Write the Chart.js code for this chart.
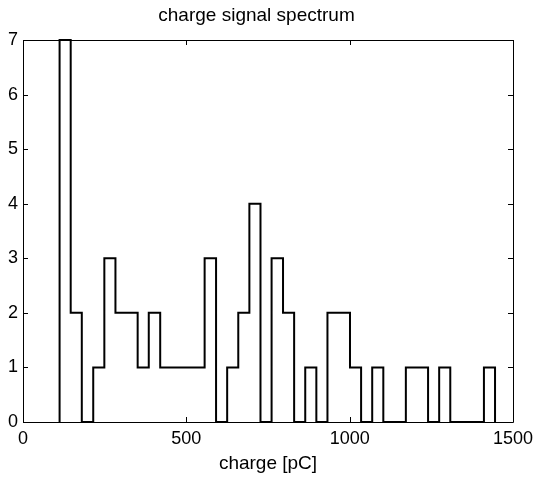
<!DOCTYPE html>
<html>
<head>
<meta charset="utf-8">
<script src="https://cdn.jsdelivr.net/npm/chart.js@4/dist/chart.umd.min.js"></script>
<style>
  body { margin: 0; background: #fff; }
  canvas { display: block; }
</style>
</head>
<body>
<canvas id="spectrumChart" width="535" height="477"></canvas>
<script>
// Histogram bin edges (pC) and counts per bin
const binEdges = [
  112, 146, 180, 215, 249, 283, 317, 351, 385, 420,
  454, 488, 522, 556, 591, 625, 659, 693, 727, 761,
  796, 830, 864, 898, 932, 967, 1001, 1035, 1069, 1103,
  1137, 1172, 1206, 1240, 1274, 1308, 1343, 1377, 1411, 1445
];
const counts = [
  7, 2, 0, 1, 3, 2, 2, 1, 2, 1,
  1, 1, 1, 3, 0, 1, 2, 4, 0, 3,
  2, 0, 1, 0, 2, 2, 1, 0, 1, 0,
  0, 1, 1, 0, 1, 0, 0, 0, 1
];
const xTicks = [0, 500, 1000, 1500];
const yTicks = [0, 1, 2, 3, 4, 5, 6, 7];

const FONT = "'Liberation Sans', Arial, Helvetica, sans-serif";

// Build stair outline points: start at baseline, each bin's left edge, close at last edge
const points = [{ x: binEdges[0], y: 0 }];
counts.forEach((c, i) => points.push({ x: binEdges[i], y: c }));
points.push({ x: binEdges[binEdges.length - 1], y: 0 });

// Box around the plot and inward ticks on all four sides
const boxTicks = {
  id: "boxTicks",
  afterDatasetsDraw(chart) {
    const { ctx, chartArea: a, scales } = chart;
    const len = 5;
    ctx.save();
    ctx.strokeStyle = "#000";
    ctx.lineWidth = 1;
    ctx.beginPath();
    ctx.rect(a.left + 0.5, a.top + 0.5, a.right - a.left, a.bottom - a.top);
    xTicks.forEach((v) => {
      const px = Math.round(scales.x.getPixelForValue(v)) + 0.5;
      ctx.moveTo(px, a.bottom);
      ctx.lineTo(px, a.bottom - len);
      ctx.moveTo(px, a.top);
      ctx.lineTo(px, a.top + len);
    });
    yTicks.forEach((v) => {
      const py = Math.round(scales.y.getPixelForValue(v)) + 0.5;
      ctx.moveTo(a.left, py);
      ctx.lineTo(a.left + len, py);
      ctx.moveTo(a.right, py);
      ctx.lineTo(a.right - len, py);
    });
    ctx.stroke();
    ctx.restore();
  },
};

const ctx = document.getElementById("spectrumChart").getContext("2d");
new Chart(ctx, {
  type: "line",
  data: {
    datasets: [
      {
        data: points,
        borderColor: "#000",
        borderWidth: 2,
        pointRadius: 0,
        stepped: true,
        fill: false,
        clip: 4,
      },
    ],
  },
  options: {
    responsive: false,
    animation: false,
    layout: { padding: { left: 0, right: 22, top: 0, bottom: 0 } },
    plugins: {
      legend: { display: false },
      tooltip: { enabled: false },
      title: {
        display: true,
        text: "charge signal spectrum",
        color: "#000",
        font: { family: FONT, size: 19, weight: "normal" },
        padding: { top: 4, bottom: 13.2 },
      },
    },
    scales: {
      x: {
        type: "linear",
        min: 0,
        max: 1500,
        afterBuildTicks: (s) => { s.ticks = xTicks.map((v) => ({ value: v })); },
        afterFit: (s) => {
          s.height = 55;
          s.paddingLeft = 0;
          s.paddingRight = 0;
        },
        grid: { display: false, drawTicks: false },
        border: { display: false },
        ticks: {
          color: "#000",
          padding: 6,
          font: { family: FONT, size: 18 },
          callback: (v) => String(v),
        },
        title: {
          display: true,
          text: "charge [pC]",
          color: "#000",
          font: { family: FONT, size: 19 },
          padding: { top: 0, bottom: 2 },
        },
      },
      y: {
        min: 0,
        max: 7,
        afterBuildTicks: (s) => { s.ticks = yTicks.map((v) => ({ value: v })); },
        afterFit: (s) => {
          s.width = 23;
          s.paddingTop = 0;
          s.paddingBottom = 0;
        },
        grid: { display: false, drawTicks: false },
        border: { display: false },
        ticks: {
          color: "#000",
          padding: 5,
          font: { family: FONT, size: 18 },
          callback: (v) => String(v),
        },
      },
    },
  },
  plugins: [boxTicks],
});
</script>
</body>
</html>
